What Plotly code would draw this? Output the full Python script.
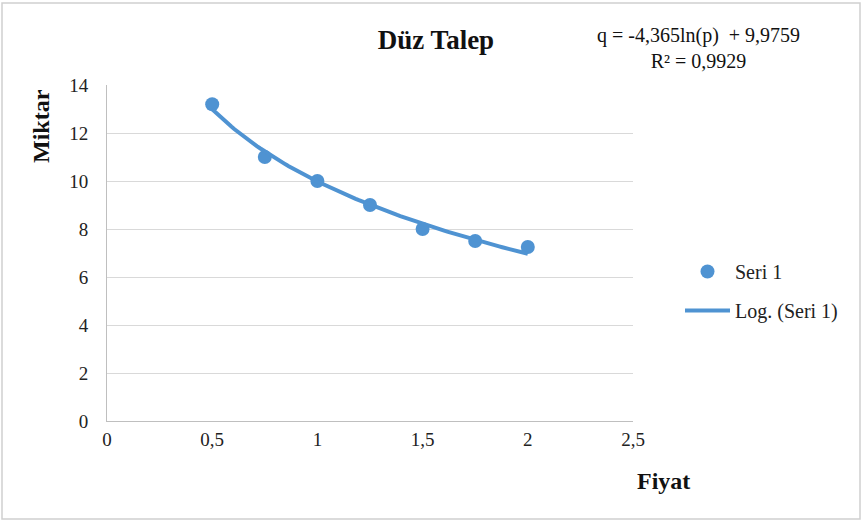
import numpy as np
import plotly.graph_objects as go

# data
fiyat = [0.5, 0.75, 1.0, 1.25, 1.5, 1.75, 2.0]
miktar = [13.2, 11.0, 10.0, 9.0, 8.0, 7.5, 7.25]
x_ticks = [0, 0.5, 1, 1.5, 2, 2.5]
x_tick_text = ["0", "0,5", "1", "1,5", "2", "2,5"]
y_ticks = [0, 2, 4, 6, 8, 10, 12, 14]

BLUE = "#4F93D2"
SERIF = "Liberation Serif"

W, H = 861, 522
L, R, T, B = 107, 228, 85, 101

# logarithmic trend fitted to the points, like the spreadsheet trendline
coef = np.polyfit(np.log(fiyat), miktar, deg=1)
x_fit = np.linspace(min(fiyat), max(fiyat), 100)
y_fit = coef[0] * np.log(x_fit) + coef[1]

fig = go.Figure()
fig.add_trace(go.Scatter(
    x=fiyat, y=miktar, mode="markers", name="Seri 1", legendgroup="a",
    marker=dict(color=BLUE, size=14),
))
fig.add_trace(go.Scatter(
    x=x_fit, y=y_fit, mode="lines", name="Log. (Seri 1)", legendgroup="b",
    line=dict(color=BLUE, width=4),
))

pw, ph = W - L - R, H - T - B


def px_x(v):
    return (v - L) / pw


def px_y(v):
    return (H - B - v) / ph


fig.update_layout(
    width=W, height=H,
    margin=dict(l=L, r=R, t=T, b=B),
    paper_bgcolor="white", plot_bgcolor="white",
    font=dict(family=SERIF, size=19, color="#222222"),
    title=dict(text="<b>Düz Talep</b>", x=436 / W, xanchor="center", y=1 - 40 / H, yanchor="middle",
               font=dict(family=SERIF, size=27, color="#111111")),
    showlegend=True,
    legend=dict(x=px_x(680), y=px_y(252), xanchor="left", yanchor="top", itemwidth=45,
                traceorder="grouped", tracegroupgap=10, font=dict(family=SERIF, size=20),
                bgcolor="rgba(0,0,0,0)"),
    xaxis=dict(range=[0, 2.5], tickvals=x_ticks, ticktext=x_tick_text, showgrid=False,
               showline=True, linecolor="#BFBFBF", linewidth=1, zeroline=False, ticks="",
               ticklabelstandoff=1, fixedrange=True, tickfont=dict(family=SERIF, size=19)),
    yaxis=dict(range=[0, 14], tickvals=y_ticks, showgrid=True, gridcolor="#D9D9D9", gridwidth=1,
               showline=True, linecolor="#BFBFBF", linewidth=1, zeroline=False, ticks="",
               ticklabelstandoff=14, fixedrange=True, tickfont=dict(family=SERIF, size=19)),
    annotations=[
        dict(text="q = -4,365ln(p)  + 9,9759<br>R² = 0,9929", xref="paper", yref="paper",
             x=px_x(698), y=px_y(48), xanchor="center", yanchor="middle", showarrow=False,
             font=dict(family=SERIF, size=20, color="#111111"), align="center"),
        dict(text="<b>Miktar</b>", xref="paper", yref="paper", x=px_x(41), y=px_y(126),
             xanchor="center", yanchor="middle", textangle=-90, showarrow=False,
             font=dict(family=SERIF, size=24, color="#111111")),
        dict(text="<b>Fiyat</b>", xref="paper", yref="paper", x=px_x(663), y=px_y(481),
             xanchor="center", yanchor="middle", showarrow=False,
             font=dict(family=SERIF, size=24, color="#111111")),
    ],
    shapes=[
        dict(type="rect", xref="paper", yref="paper",
             x0=px_x(2), x1=px_x(W - 1), y0=px_y(H - 3), y1=px_y(3),
             line=dict(color="#D0D0D0", width=1.5), layer="below"),
    ],
)

fig.write_html("out.html", config={"displayModeBar": False},
               post_script="document.body.style.margin='0';")
